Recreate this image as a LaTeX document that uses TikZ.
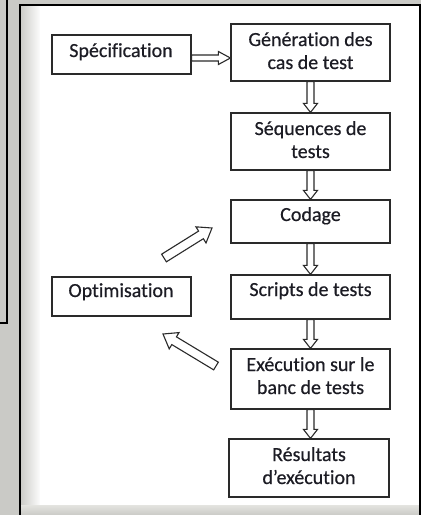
\documentclass[tikz,border=0pt]{standalone}
\usepackage{fontspec}
\setmainfont{Carlito}[Ligatures={NoCommon}, FakeBold=0.5]
\usetikzlibrary{calc}
\definecolor{bggray}{HTML}{CACAC6}
\definecolor{lightgray2}{HTML}{E4E4E0}
\definecolor{boxline}{HTML}{2A2A2A}
\definecolor{txtcol}{HTML}{1C1C24}
\newcommand{\hollowarrow}[5]{%
  \draw[harrow] ($(#1)!#3!90:(#2)$) -- ($(#2)!#5!(#1)!#3!90:(#2)$) -- ($(#2)!#5!(#1)!#4!90:(#2)$) -- (#2)
    -- ($(#2)!#5!(#1)!#4!-90:(#2)$) -- ($(#2)!#5!(#1)!#3!-90:(#2)$) -- ($(#1)!#3!-90:(#2)$) -- cycle;}
\begin{document}
\begin{tikzpicture}[x=1pt,y=-1pt,
  box/.style={draw=boxline, line width=1.2pt, fill=white, inner sep=0pt},
  txt/.style={anchor=base, inner sep=0pt, text=txtcol, font=\fontsize{20}{23}\selectfont},
  harrow/.style={draw=boxline, line width=1.1pt, fill=white, line join=miter},
  frameline/.style={draw=black, line width=1.6pt}]
\useasboundingbox (0,0) rectangle (421,515);
% background
\fill[bggray] (0,0) rectangle (421,515);
\shade[left color=bggray, right color=white] (20,5) rectangle (41,505);
\fill[white] (40,5) rectangle (420,505);
\shade[top color=lightgray2, bottom color=bggray] (20,505) rectangle (420,515);
% left partial box
\draw[frameline] (0,323) -- (7,323) -- (7,0);
% main frame
\draw[frameline] (20,515) -- (20,5) -- (420,5) -- (420,515);
% boxes
\node[box, minimum width=139pt, minimum height=39pt] (spec) at (121.5,54.5) {};
\node[box, minimum width=159pt, minimum height=57pt] (gen) at (310.5,52.5) {};
\node[box, minimum width=159pt, minimum height=57pt] (seq) at (310.5,141.5) {};
\node[box, minimum width=159pt, minimum height=43pt] (cod) at (310.5,221.5) {};
\node[box, minimum width=159pt, minimum height=44pt] (scr) at (310.5,297) {};
\node[box, minimum width=159pt, minimum height=60pt] (exe) at (310.5,379) {};
\node[box, minimum width=160pt, minimum height=58pt] (res) at (309,468) {};
\node[box, minimum width=139pt, minimum height=39pt] (opt) at (121.5,296.5) {};
% texts
\node[txt] (spect) at (121,57) {Spécification};
\node[txt] (gent) at (310.5,69) {\begin{tabular}[b]{@{}c@{}}Génération des\\cas de test\end{tabular}};
\node[txt] (seqt) at (310.5,158) {\begin{tabular}[b]{@{}c@{}}Séquences de\\tests\end{tabular}};
\node[txt] (codt) at (310.5,221) {Codage};
\node[txt] (scrt) at (310.5,296) {Scripts de tests};
\node[txt] (exet) at (310.5,394) {\begin{tabular}[b]{@{}c@{}}Exécution sur le\\banc de tests\end{tabular}};
\node[txt] (rest) at (309,484) {\begin{tabular}[b]{@{}c@{}}Résultats\\d’exécution\end{tabular}};
\node[txt] (optt) at (121,297) {Optimisation};
% connectors
\coordinate (h1) at (spec.east |- 0,58);
\coordinate (h2) at (gen.west |- 0,58);
\hollowarrow{h1}{h2}{3pt}{6.5pt}{12pt}
\hollowarrow{gen.south}{seq.north}{3.5pt}{7pt}{9pt}
\hollowarrow{seq.south}{cod.north}{3.5pt}{7pt}{9pt}
\hollowarrow{cod.south}{scr.north}{3.5pt}{7pt}{9pt}
\hollowarrow{scr.south}{exe.north}{3.5pt}{7pt}{9pt}
\coordinate (r1) at (exe.south);
\coordinate (r2) at (exe.south |- res.north);
\hollowarrow{r1}{r2}{3.5pt}{7pt}{9pt}
\coordinate (d1s) at (164,258);
\coordinate (d1t) at (212,228);
\hollowarrow{d1s}{d1t}{4.5pt}{9.5pt}{13pt}
\coordinate (d2s) at (216,366);
\coordinate (d2t) at (163,334);
\hollowarrow{d2s}{d2t}{4.5pt}{9.5pt}{13pt}
\end{tikzpicture}
\end{document}
